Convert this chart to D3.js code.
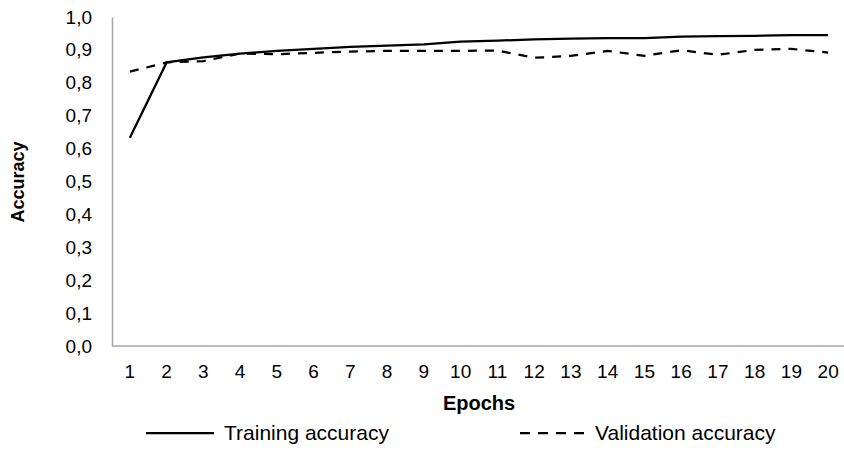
<!DOCTYPE html>
<html>
<head>
<meta charset="utf-8">
<script src="https://cdn.jsdelivr.net/npm/d3@7"></script>
<style>
  html, body { margin: 0; padding: 0; background: #fff; }
  svg { display: block; font-family: "Liberation Sans", Arial, sans-serif; }
</style>
</head>
<body>
<svg id="chart" width="844" height="450"></svg>
<script>
const epochs = [1,2,3,4,5,6,7,8,9,10,11,12,13,14,15,16,17,18,19,20];
const trainingAccuracy = [0.633,0.862,0.877,0.889,0.897,0.903,0.909,0.913,0.917,0.925,0.928,0.932,0.934,0.936,0.936,0.940,0.942,0.943,0.945,0.945];
const validationAccuracy = [0.834,0.862,0.866,0.889,0.887,0.891,0.895,0.897,0.897,0.897,0.898,0.876,0.882,0.897,0.882,0.899,0.885,0.900,0.903,0.892];
const yTicks = [0,0.1,0.2,0.3,0.4,0.5,0.6,0.7,0.8,0.9,1.0];
const seriesNames = ["Training accuracy", "Validation accuracy"];
const xTitle = "Epochs";
const yTitle = "Accuracy";

const svg = d3.select("#chart");
const x = d3.scaleBand().domain(epochs).range([111.5, 846.5]).padding(0);
const xc = d => x(d) + x.bandwidth() / 2;
const y = d3.scaleLinear().domain([0, 1]).range([346, 17]);
const fmt = v => d3.format(".1f")(v).replace(".", ",");

// axes
const yAxis = d3.axisLeft(y).tickValues(yTicks).tickFormat(fmt).tickSize(0).tickPadding(20);
const gy = svg.append("g").attr("transform", "translate(112,0)").call(yAxis);
gy.select(".domain").attr("stroke", "#a6a6a6").attr("stroke-width", 1.5);
gy.selectAll("text").attr("font-size", 19).attr("fill", "#000").attr("font-family", "Liberation Sans, Arial, sans-serif");

const xAxis = d3.axisBottom(x).tickSize(0).tickPadding(19);
const gx = svg.append("g").attr("transform", "translate(0,346)").call(xAxis);
gx.select(".domain").attr("stroke", "#a6a6a6").attr("stroke-width", 1.5).attr("d", "M112,0H844");
gx.selectAll("text").attr("font-size", 19).attr("fill", "#000").attr("font-family", "Liberation Sans, Arial, sans-serif");

// lines
const line = d3.line().x((d, i) => xc(epochs[i])).y(d => y(d));
svg.append("path").datum(validationAccuracy).attr("d", line)
  .attr("fill", "none").attr("stroke", "#000").attr("stroke-width", 2.25)
  .attr("stroke-dasharray", "9,8");
svg.append("path").datum(trainingAccuracy).attr("d", line)
  .attr("fill", "none").attr("stroke", "#000").attr("stroke-width", 2.25);

// titles
svg.append("text").attr("x", 479).attr("y", 410).attr("text-anchor", "middle")
  .attr("font-size", 20).attr("font-weight", "bold").text(xTitle);
svg.append("text").attr("transform", "translate(24,182) rotate(-90)").attr("text-anchor", "middle")
  .attr("font-size", 18).attr("font-weight", "bold").text(yTitle);

// legend
const legend = svg.append("g");
legend.append("line").attr("x1", 146).attr("x2", 214).attr("y1", 433).attr("y2", 433)
  .attr("stroke", "#000").attr("stroke-width", 2.25);
legend.append("text").attr("x", 224).attr("y", 440).attr("font-size", 21).text(seriesNames[0]);
legend.append("line").attr("x1", 520).attr("x2", 584).attr("y1", 433).attr("y2", 433)
  .attr("stroke", "#000").attr("stroke-width", 2.25).attr("stroke-dasharray", "10,8");
legend.append("text").attr("x", 595).attr("y", 440).attr("font-size", 21).text(seriesNames[1]);
</script>
</body>
</html>
